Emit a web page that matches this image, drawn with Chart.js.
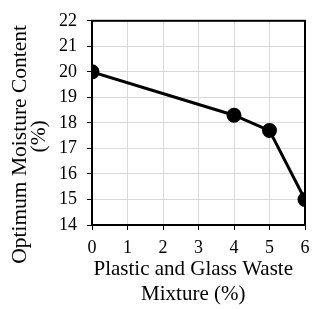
<!DOCTYPE html>
<html>
<head>
<meta charset="utf-8">
<script src="https://cdn.jsdelivr.net/npm/chart.js@4"></script>
<style>
  html, body { margin: 0; padding: 0; background: #fff; }
  #wrap { width: 325px; height: 309px; }
</style>
</head>
<body>
<div id="wrap"><canvas id="moistureChart" width="325" height="309"></canvas></div>
<script>
const mixture = [0, 4, 5, 6];
const moisture = [20, 18.3, 17.7, 15];
const xTicks = [0, 1, 2, 3, 4, 5, 6];
const yTicks = [14, 15, 16, 17, 18, 19, 20, 21, 22];

const serif = 'Liberation Serif, Times New Roman, serif';

// black frame around the plot area
const frame = {
    id: 'frame',
    afterDraw(chart) {
        const a = chart.chartArea;
        const c = chart.ctx;
        c.save();
        c.strokeStyle = '#000';
        c.lineWidth = 2;
        c.strokeRect(a.left, a.top, a.right - a.left, a.bottom - a.top);
        c.restore();
    }
};

const ctx = document.getElementById('moistureChart').getContext('2d');
new Chart(ctx, {
    type: 'scatter',
    data: {
        datasets: [{
            data: mixture.map((x, i) => ({ x: x, y: moisture[i] })),
            showLine: true,
            borderColor: '#000',
            backgroundColor: '#000',
            borderWidth: 3,
            pointRadius: 6,
            pointHoverRadius: 6,
            fill: false
        }]
    },
    options: {
        responsive: false,
        animation: false,
        events: [],
        layout: { padding: { top: 20, right: 20, left: 0, bottom: 0 } },
        plugins: { legend: { display: false }, tooltip: { enabled: false } },
        scales: {
            x: {
                type: 'linear',
                min: 0, max: 6,
                afterBuildTicks: s => { s.ticks = xTicks.map(v => ({ value: v })); },
                afterFit: s => { s.height = 84; },
                grid: { color: '#d9d9d9', tickColor: '#000', tickLength: 5, lineWidth: 1 },
                border: { display: false },
                ticks: { color: '#000', font: { family: serif, size: 18 }, padding: 7, maxRotation: 0 },
                title: {
                    display: true,
                    // trailing spaces nudge the title a little left, as in the original
                    text: ['Plastic and Glass Waste  ', 'Mixture (%)  '],
                    color: '#000',
                    font: { family: serif, size: 21, lineHeight: 1.19 },
                    padding: { top: 2, bottom: 2 }
                }
            },
            y: {
                min: 14, max: 22,
                afterBuildTicks: s => { s.ticks = yTicks.map(v => ({ value: v })); },
                afterFit: s => { s.width = 92; },
                grid: { color: '#d9d9d9', tickColor: '#000', tickLength: 5, lineWidth: 1 },
                border: { display: false },
                ticks: { color: '#000', font: { family: serif, size: 18 }, padding: 10 },
                title: {
                    display: true,
                    // trailing spaces push the rotated title downwards
                    text: ['Optimum Moisture Content        ', '(%)     '],
                    color: '#000',
                    font: { family: serif, size: 21.5, lineHeight: 0.88 },
                    padding: { top: 11, bottom: 0 }
                }
            }
        }
    },
    plugins: [frame]
});
</script>
</body>
</html>
